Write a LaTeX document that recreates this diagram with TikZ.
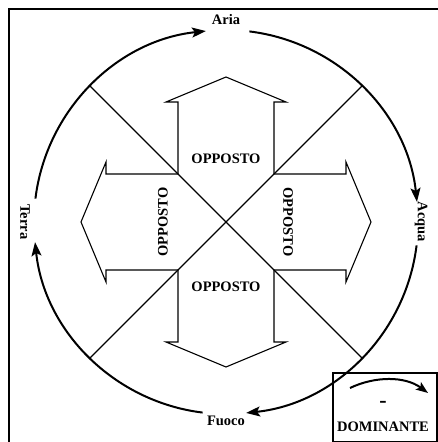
\documentclass[tikz,border=0pt]{standalone}
\usepackage{fontspec}
\setmainfont{Liberation Serif}
\usetikzlibrary{arrows.meta, positioning}

\begin{document}
\begin{tikzpicture}[x=1pt,y=1pt,
    lbl/.style={font=\fontsize{14.5}{16}\selectfont\bfseries, inner sep=0pt},
    ring/.style={line width=2pt, -{Stealth[length=14pt,width=10pt,inset=3pt]}},
    blockarr/.style={line width=1.1pt, line join=miter}]
  \useasboundingbox (0,0) rectangle (438,442);
  % frame
  \draw[line width=2pt] (9,0) -- (9,433) -- (438,433);
  \coordinate (c) at (226,220);
  % elements round the circle
  \foreach \a in {180,90,0,-90}
    \draw[ring] (c) ++(\a-7:192) arc[start angle=\a-7, end angle=\a-84, radius=192];
  \node[lbl] (aria) at (226,422) {Aria};
  \node[lbl, rotate=-90] (acqua) at (421,220) {Acqua};
  \node[lbl] (fuoco) at (226,21) {Fuoco};
  \node[lbl, rotate=-90] (terra) at (25,220) {Terra};
  % cross
  \draw[line width=1.1pt] (c) ++(135:192) -- ++(-45:384);
  \draw[line width=1.1pt] (c) ++(45:192) -- ++(-135:384);
  % block arrows
  \foreach \r in {0,90,180,270}
    \draw[blockarr, shift={(226,220)}, rotate=\r]
      (-48,48) -- (-48,120) -- (-60,120) -- (0,145) -- (60,120) -- (48,120) -- (48,48);
  \node[lbl] (oppN) at (226,283) {OPPOSTO};
  \node[lbl] (oppS) at (226,155) {OPPOSTO};
  \node[lbl, rotate=90] (oppW) at (163,220) {OPPOSTO};
  \node[lbl, rotate=-90] (oppE) at (288,220) {OPPOSTO};
  % legend
  \draw[line width=1.4pt] (333,0.8) rectangle (437,69);
  \coordinate (ls) at (350,54);
  \coordinate (le) at (428,49);
  \draw[line width=2pt, -{Stealth[length=12pt,width=9pt,inset=2.5pt]}]
    (ls) .. controls (375,66) and (405,66) .. (le);
  \node[lbl, font=\fontsize{22}{24}\selectfont\bfseries] (minus) at (383,38) {-};
  \node[lbl] (dom) at (383,15) {DOMINANTE};
\end{tikzpicture}
\end{document}
